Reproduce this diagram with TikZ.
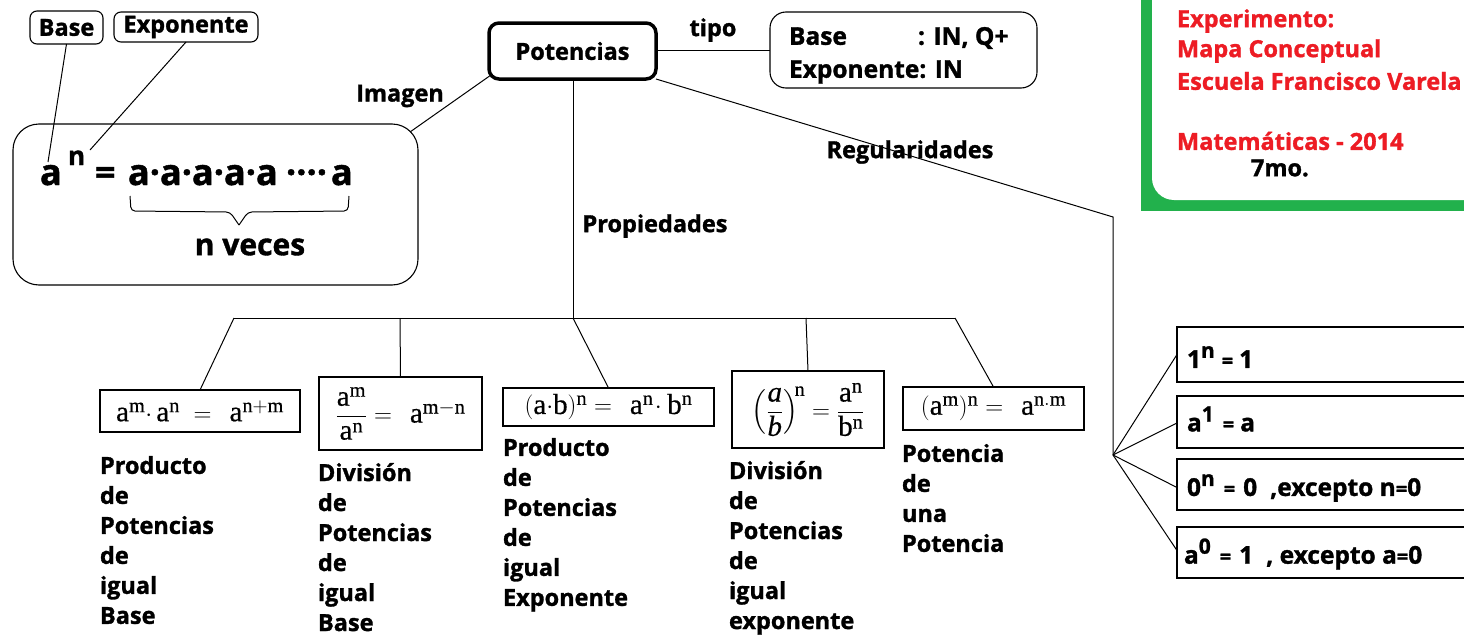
\documentclass[tikz,border=0pt]{standalone}
\usepackage{amsmath}
\usepackage{fontspec}
\setmainfont{Open Sans}[BoldFeatures={FakeBold=1.3}]
\setmathrm{Liberation Serif}[FakeBold=0.5]
\usetikzlibrary{calc}
\definecolor{pgreen}{HTML}{22B14C}
\definecolor{pred}{HTML}{ED1C24}
\begin{document}
\begin{tikzpicture}[x=1pt,y=-1pt,
  every node/.style={inner sep=0pt, outer sep=0pt},
  rbox/.style={draw, line width=1.1pt, rounded corners=7pt},
  fbox/.style={draw, line width=1.3pt, font=\fontsize{29}{30}\selectfont},
  rgbox/.style={draw, line width=1.3pt, minimum width=330pt, anchor=west},
  rgtxt/.style={anchor=west, font=\bfseries\fontsize{24.5}{26}\selectfont},
  lbl/.style={font=\bfseries\fontsize{23.5}{30}\selectfont},
  stack/.style={lbl, align=left, anchor=north west},
  big/.style={anchor=base west, font=\bfseries\fontsize{36}{38}\selectfont},
  conn/.style={line width=1pt}
]
\useasboundingbox (0,0) rectangle (1464,637);
\clip (0,0) rectangle (1464,637);
\fill[white] (0,0) rectangle (1464,637);

% green title box
\fill[pgreen] (1141,-10) rectangle (1480,211);
\fill[white, rounded corners=22pt] (1152,-30) rectangle (1490,200);
\node[lbl, anchor=west, text=pred] (t1) at (1177,21) {Experimento:};
\node[lbl, anchor=west, text=pred] (t2) at (1177,51) {Mapa Conceptual};
\node[lbl, anchor=west, text=pred] (t3) at (1177,81) {Escuela Francisco Varela};
\node[lbl, anchor=west, text=pred] (t4) at (1177,141) {Matemáticas - 2014};
\node[lbl, anchor=west] (t5) at (1251,168) {7mo.};

% top-left
\node[rbox, minimum width=73pt, minimum height=33pt, lbl] (base) at (66.5,27.5) {Base};
\node[rbox, minimum width=144pt, minimum height=30pt, lbl] (expo) at (186,27) {Exponente};
\node[rbox, rounded corners=26pt, minimum width=405pt, minimum height=161pt] (img) at (215.5,204.5) {};
\node[big] (fa) at (40,185) {a};
\node[anchor=base west, font=\bfseries\fontsize{26}{28}\selectfont] (fn) at (68,165) {n};
\node[big] (feq) at (95,185) {=};
\node[big] (fprod) at (128,185) {a·a·a·a·a};
\node[big] (fdots) at (286,185) {····};
\node[big] (flast) at (331,185) {a};
\coordinate (abase) at (48,162);
\coordinate (aexp) at (90,150);
\draw[conn] (base.south) -- (abase);
\draw[conn] (expo.south) -- (aexp);
\coordinate (brL) at (130,196);
\coordinate (brR) at (349,196);
\draw[line width=1pt, rounded corners=4pt] (brL) -- (131,211) -- (230,212) -- (239,225);
\draw[line width=1pt, rounded corners=4pt] (brR) -- (348,211) -- (248,212) -- (239,225);
\node[font=\bfseries\fontsize{30}{32}\selectfont] (nveces) at (250,247) {n veces};

% Potencias
\node[draw, line width=3.5pt, rounded corners=10pt, minimum width=167pt, minimum height=56pt, lbl] (pot) at (572.5,51) {Potencias};
\node[rbox, rounded corners=16pt, minimum width=267pt, minimum height=76pt] (tipob) at (903.5,50) {};
\node[lbl, anchor=west, font=\bfseries\fontsize{24.5}{30}\selectfont] (tb1) at (789,38) {\makebox[129pt][l]{Base}: IN, Q+};
\node[lbl, anchor=west, font=\bfseries\fontsize{24.5}{30}\selectfont] (tb2) at (789,72) {Exponente: IN};
\draw[conn] (pot.east |- tipob.west) -- (tipob.west);
\node[lbl] (ltipo) at (713,30) {tipo};
\draw[conn] ($(pot.south west)+(2,-4)$) -- ($(img.north east)+(-8,8)$);
\node[lbl] (limagen) at (400,96) {Imagen};

% Propiedades
\coordinate (hub) at (573,318);
\coordinate (j1) at (234,318);
\coordinate (j2) at (400,318);
\coordinate (j4) at (806,318);
\coordinate (j5) at (955,318);
\draw[conn] (pot.south -| hub) -- (hub);
\draw[conn] (j1) -- (j5);
\node[lbl] (lprop) at (655,226) {Propiedades};

\node[fbox, minimum width=200pt, minimum height=42pt] (f1) at (200,411)
  {$\mathrm{a^m{\cdot}\,a^n\;=\;\,a^{n+m}}$};
\node[fbox, minimum width=163pt, minimum height=73pt] (f2) at (400.5,413.5)
  {$\dfrac{\mathrm{a^m}}{\mathrm{a^n}}=\;\,\mathrm{a^{m-n}}$};
\node[fbox, minimum width=211pt, minimum height=38pt] (f3) at (608.5,407)
  {$\mathrm{(a{\cdot}b)^n=\;\,a^n\!\cdot b^n}$};
\node[fbox, minimum width=152pt, minimum height=77pt] (f4) at (808,409.5)
  {$\left(\dfrac{\mathit{a}}{\mathit{b}}\right)^{\!\mathrm{n}}=\dfrac{\mathrm{a^n}}{\mathrm{b^n}}$};
\node[fbox, minimum width=181pt, minimum height=43pt] (f5) at (993.5,408.5)
  {$\mathrm{(a^m)^n=\;\,a^{n.m}}$};
\draw[conn] (j1) -- (f1.north);
\draw[conn] (j2) -- (f2.north);
\draw[conn] (hub) -- (f3.north);
\draw[conn] (j4) -- (f4.north);
\draw[conn] (j5) -- (f5.north);

\node[stack] (d1) at (100,456) {Producto\\de\\Potencias\\de\\igual\\Base};
\node[stack] (d2) at (318,463) {División\\de\\Potencias\\de\\igual\\Base};
\node[stack] (d3) at (503,438) {Producto\\de\\Potencias\\de\\igual\\Exponente};
\node[stack] (d4) at (729,461) {División\\de\\Potencias\\de\\igual\\exponente};
\node[stack] (d5) at (902,444) {Potencia\\de\\una\\Potencia};

% Regularidades
\coordinate (rc) at (1113,217);
\coordinate (fan) at (1113,455);
\draw[conn] (pot.south east) -- (rc) -- (fan);
\node[lbl] (lreg) at (910,152) {Regularidades};
\node[rgbox, minimum height=55pt] (r1) at (1177,354.5) {};
\node[rgbox, minimum height=52pt] (r2) at (1177,422) {};
\node[rgbox, minimum height=51pt] (r3) at (1177,484.5) {};
\node[rgbox, minimum height=51pt] (r4) at (1177,552.5) {};
\newcommand\sm[1]{{\fontsize{20}{20}\selectfont #1}}
\newcommand\up[1]{\raisebox{10pt}{\fontsize{21}{21}\selectfont #1}}
\node[rgtxt] (r1t) at (1187,357)
  {1\up{n}\hspace{7pt}\sm{=}\hspace{6pt}1};
\node[rgtxt] (r2t) at (1187,419)
  {a\up{1}\hspace{9pt}\sm{=}\hspace{6pt}a};
\node[rgtxt] (r3t) at (1187,488)
  {0\up{n}\hspace{9pt}\sm{=}\hspace{8pt}0\hspace{13pt},excepto n\sm{=}0};
\node[rgtxt] (r4t) at (1184,554)
  {a\up{0}\hspace{9pt}\sm{=}\hspace{8pt}1\hspace{13pt}, excepto a\sm{=}0};
\draw[conn] (fan) -- (r1.west);
\draw[conn] (fan) -- ($(r2.west)+(0,1)$);
\draw[conn] (fan) -- ($(r3.west)+(0,3)$);
\draw[conn] (fan) -- ($(r4.west)+(0,-2)$);
\end{tikzpicture}
\end{document}
